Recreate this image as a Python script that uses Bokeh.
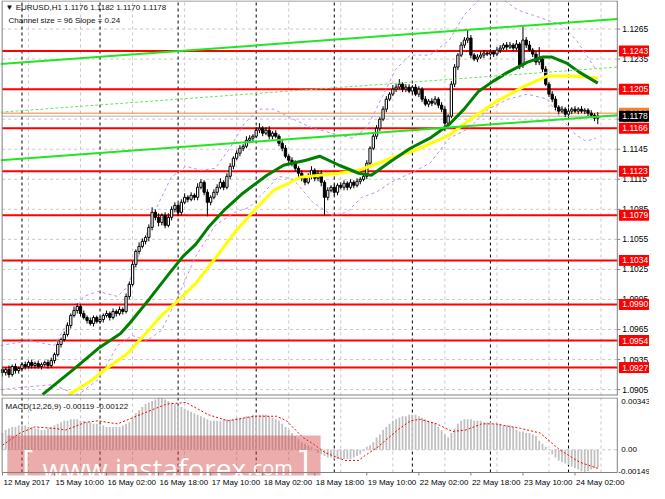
from bokeh.plotting import figure
from bokeh.models import Range1d, ColumnDataSource
from bokeh.layouts import column
from bokeh.embed import file_html
from bokeh.resources import INLINE
from bokeh.core.properties import value

FONT = "Liberation Sans"
PIP = 0.0001

# ---------------- data ----------------
first_open = 1.0925
closes = [
    1.0922, 1.0925, 1.0920, 1.0928, 1.0924, 1.0926, 1.0930, 1.0928, 1.0932, 1.0929,
    1.0931, 1.0928, 1.0930, 1.0932, 1.0929, 1.0934, 1.0940, 1.0950, 1.0955, 1.0960,
    1.0969, 1.0979, 1.0984, 1.0988, 1.0981, 1.0977, 1.0974, 1.0971, 1.0977, 1.0973,
    1.0975, 1.0979, 1.0981, 1.0977, 1.0983, 1.0981, 1.0985, 1.0983, 1.0998, 1.1010,
    1.1030, 1.1043, 1.1048, 1.1053, 1.1057, 1.1067, 1.1082, 1.1077, 1.1072, 1.1079,
    1.1069, 1.1077, 1.1085, 1.1089, 1.1082, 1.1092, 1.1097, 1.1095, 1.1099, 1.1097,
    1.1107, 1.1112, 1.1102, 1.1092, 1.1097, 1.1102, 1.1107, 1.1112, 1.1107, 1.1118,
    1.1128, 1.1136, 1.1141, 1.1146, 1.1148, 1.1154, 1.1156, 1.1158, 1.1164, 1.1166,
    1.1161, 1.1164, 1.1158, 1.1161, 1.1158, 1.1151, 1.1146, 1.1138, 1.1134, 1.1131,
    1.1126, 1.1121, 1.1116, 1.1112, 1.1118, 1.1124, 1.1116, 1.1121, 1.1112, 1.1097,
    1.1104, 1.1107, 1.1102, 1.1109, 1.1107, 1.1111, 1.1107, 1.1112, 1.1109, 1.1113,
    1.1115, 1.1118, 1.1131, 1.1146, 1.1158, 1.1166, 1.1175, 1.1185, 1.1195, 1.1200,
    1.1205, 1.1207, 1.1210, 1.1205, 1.1207, 1.1203, 1.1207, 1.1200, 1.1205, 1.1195,
    1.1190, 1.1193, 1.1191, 1.1195, 1.1189, 1.1185, 1.1171, 1.1178, 1.1210, 1.1227,
    1.1239, 1.1249, 1.1254, 1.1256, 1.1239, 1.1235, 1.1237, 1.1239, 1.1241, 1.1240,
    1.1242, 1.1240, 1.1244, 1.1246, 1.1249, 1.1247, 1.1249, 1.1246, 1.1250, 1.1229,
    1.1254, 1.1249, 1.1244, 1.1240, 1.1232, 1.1235, 1.1225, 1.1210, 1.1200, 1.1195,
    1.1187, 1.1183, 1.1185, 1.1180, 1.1183, 1.1185, 1.1183, 1.1185, 1.1183, 1.1184,
    1.1181, 1.1179, 1.1176, 1.1178,
]
# wick lengths above / below the body, in pips
upper_wick = [
    3, 2, 4, 2, 3, 2, 2, 3, 2, 3,  2, 3, 2, 2, 3, 3, 2, 3, 2, 3,
    3, 2, 4, 3, 2, 3, 2, 3, 2, 2,  3, 2, 3, 2, 3, 2, 3, 2, 3, 3,
    3, 2, 4, 3, 2, 3, 5, 3, 4, 2,  3, 4, 3, 3, 2, 3, 4, 2, 3, 2,
    4, 3, 2, 3, 2, 3, 3, 4, 2, 3,  3, 2, 3, 3, 2, 4, 3, 2, 3, 5,
    2, 3, 4, 2, 3, 2, 3, 3, 2, 3,  3, 2, 3, 2, 3, 4, 2, 3, 3, 2,
    3, 2, 3, 2, 3, 3, 2, 3, 2, 3,  2, 3, 3, 2, 3, 3, 2, 3, 3, 2,
    4, 3, 5, 2, 3, 3, 2, 3, 3, 2,  3, 2, 3, 3, 2, 3, 3, 2, 3, 3,
    2, 3, 3, 8, 3, 2, 3, 4, 3, 2,  3, 2, 3, 3, 2, 3, 3, 2, 4, 2,
    13, 3, 4, 2, 3, 12, 3, 3, 2, 3, 3, 2, 3, 2, 3, 2, 3, 2, 3, 2,
    2, 3, 2, 4,
]
lower_wick = [
    4, 3, 3, 2, 3, 3, 2, 3, 2, 3,  3, 2, 3, 2, 3, 2, 3, 2, 3, 2,
    2, 3, 2, 3, 3, 2, 3, 2, 3, 2,  2, 3, 2, 3, 2, 3, 2, 3, 2, 3,
    2, 3, 3, 2, 3, 4, 3, 3, 4, 3,  3, 2, 3, 3, 4, 3, 2, 3, 2, 3,
    3, 2, 3, 14, 3, 2, 3, 2, 3, 2, 3, 3, 2, 3, 3, 2, 3, 3, 2, 3,
    3, 2, 3, 3, 2, 3, 3, 2, 3, 3,  3, 4, 3, 3, 2, 3, 3, 3, 4, 18,
    3, 2, 3, 3, 2, 3, 3, 2, 3, 2,  3, 2, 3, 3, 2, 3, 3, 2, 3, 2,
    2, 3, 2, 3, 3, 2, 3, 2, 3, 3,  2, 3, 3, 2, 3, 3, 8, 3, 2, 3,
    3, 2, 3, 3, 3, 2, 3, 2, 3, 2,  2, 3, 2, 3, 2, 3, 2, 3, 2, 4,
    3, 3, 2, 3, 3, 3, 3, 2, 3, 3,  3, 3, 2, 3, 2, 3, 2, 3, 2, 3,
    3, 2, 3, 6,
]

# moving averages (bar index, price)
green_ma_x = [12.3, 22.5, 29.4, 36.3, 39.3, 45.3, 51.3, 55.5, 59.4, 63.3, 68.4, 73.5,
              81.3, 86.4, 93.3, 97.5, 103.5, 109.5, 113.4, 119.4, 125.4, 131.4, 137.4,
              141.9, 146.4, 150.9, 155.4, 161.4, 165.9, 168.9, 173.4, 177.3, 183.0]
green_ma_y = [1.0900, 1.0927, 1.0946, 1.0961, 1.0972, 1.0996, 1.1021, 1.1038, 1.1050,
              1.1067, 1.1085, 1.1100, 1.1119, 1.1129, 1.1134, 1.1138, 1.1129, 1.1121,
              1.1119, 1.1133, 1.1146, 1.1156, 1.1170, 1.1185, 1.1203, 1.1213, 1.1222,
              1.1232, 1.1237, 1.1237, 1.1231, 1.1222, 1.1211]
yellow_ma_x = [20.4, 26.4, 32.4, 38.4, 43.5, 48.9, 53.4, 59.4, 65.4, 71.4, 77.4, 83.4,
               91.5, 103.5, 109.5, 115.5, 119.4, 128.4, 137.4, 143.4, 151.5, 160.5,
               167.4, 174.9, 183.0]
yellow_ma_y = [1.0900, 1.0912, 1.0927, 1.0941, 1.0959, 1.0979, 1.0992, 1.1011, 1.1036,
               1.1062, 1.1084, 1.1104, 1.1117, 1.1121, 1.1124, 1.1131, 1.1136, 1.1146,
               1.1159, 1.1174, 1.1192, 1.1208, 1.1218, 1.1218, 1.1216]
band_up_x = [-0.6, 8.4, 15.9, 20.4, 24.9, 29.4, 35.4, 38.4, 42.9, 47.4, 51.9, 56.4,
             60.9, 65.4, 69.9, 74.4, 78.9, 83.4, 89.4, 95.4, 101.4, 107.4, 111.9,
             116.4, 120.9, 125.4, 131.4, 137.4, 141.9, 146.4, 152.4, 158.4, 162.9,
             167.4, 171.9, 176.4, 182.4]
band_up_y = [1.0949, 1.0954, 1.0949, 1.0974, 1.0998, 1.1003, 1.0998, 1.1008, 1.1048,
             1.1087, 1.1117, 1.1128, 1.1124, 1.1126, 1.1146, 1.1171, 1.1185, 1.1185,
             1.1175, 1.1166, 1.1161, 1.1156, 1.1166, 1.1195, 1.1225, 1.1239, 1.1239,
             1.1254, 1.1279, 1.1294, 1.1298, 1.1284, 1.1279, 1.1274, 1.1269, 1.1254,
             1.1225]
band_dn_x = [-0.6, 8.4, 15.9, 18.9, 23.4, 29.4, 35.4, 39.9, 44.4, 48.9, 53.4, 59.4,
             65.4, 71.4, 75.9, 80.4, 84.9, 89.4, 95.4, 101.4, 105.9, 110.4, 114.9,
             119.4, 125.4, 131.4, 137.4, 143.4, 149.4, 155.4, 161.4, 167.4, 171.9,
             176.4, 179.4, 182.4]
band_dn_y = [1.0905, 1.0908, 1.0910, 1.0905, 1.0900, 1.0915, 1.0949, 1.0959, 1.0954,
             1.0964, 1.0994, 1.1038, 1.1069, 1.1082, 1.1087, 1.1102, 1.1118, 1.1115,
             1.1092, 1.1079, 1.1082, 1.1097, 1.1102, 1.1112, 1.1121, 1.1131, 1.1156,
             1.1166, 1.1185, 1.1195, 1.1200, 1.1195, 1.1175, 1.1159, 1.1153, 1.1156]

# regression channel (ends) - size 96 pips, slope 0.24
chan_x = [-0.6, 189.0]
chan_upper = [1.1230, 1.1275]
chan_mid = [1.1182, 1.1227]
chan_lower = [1.1134, 1.1179]

red_levels = [1.1243, 1.1205, 1.1166, 1.1123, 1.1079, 1.1034, 1.0990, 1.0954, 1.0927]
ask_level = 1.1181
bid_level = 1.1178
price_ticks = [1.0905, 1.0935, 1.0965, 1.0995, 1.1025, 1.1055, 1.1085, 1.1115,
               1.1145, 1.1175, 1.1205, 1.1235, 1.1265]

label_bars = [0, 16, 32, 48, 64, 80, 96, 112, 128, 144, 160, 176]
time_labels = ["12 May 2017", "15 May 10:00", "16 May 02:00", "16 May 18:00",
               "17 May 10:00", "18 May 02:00", "18 May 18:00", "19 May 10:00",
               "22 May 02:00", "22 May 18:00", "23 May 10:00", "24 May 02:00"]
grid_bars = [8, 24, 40, 56, 72, 88, 104, 120, 136, 152, 168, 184]
day_bars = [6, 30, 54, 78, 102, 126, 150, 174]

macd_hist = [
    0.0011, 0.0013, 0.0014, 0.0015, 0.0015, 0.0016, 0.0016, 0.0016, 0.0015, 0.0015,
    0.0014, 0.0014, 0.0013, 0.0013, 0.0014, 0.0015, 0.0016, 0.0017, 0.0018, 0.0019,
    0.0019, 0.0020, 0.0020, 0.0020, 0.0019, 0.0019, 0.0018, 0.0018, 0.0017, 0.0017,
    0.0016, 0.0016, 0.0015, 0.0015, 0.0015, 0.0015, 0.0015, 0.0016, 0.0017, 0.0018,
    0.0021, 0.0024, 0.0026, 0.0028, 0.0030, 0.0031, 0.0032, 0.0033, 0.00343, 0.0034,
    0.0033, 0.0032, 0.0031, 0.0030, 0.0029, 0.0028, 0.0027, 0.0026, 0.0025, 0.0024,
    0.0023, 0.0022, 0.0021, 0.0020, 0.0019, 0.0019, 0.0019, 0.0019, 0.0020, 0.0020,
    0.0020, 0.0020, 0.0021, 0.0021, 0.0021, 0.0022, 0.0022, 0.0023, 0.0023, 0.0023,
    0.0023, 0.0023, 0.0022, 0.0021, 0.0020, 0.0019, 0.0017, 0.0015, 0.0013, 0.0011,
    0.0009, 0.0007, 0.0005, 0.0004, 0.0003, 0.0002, 0.0000, -0.0002, -0.0003, -0.0004,
    -0.0005, -0.0005, -0.0006, -0.0006, -0.0006, -0.0006, -0.0006, -0.0006, -0.0005, -0.0004,
    -0.0003, -0.0001, 0.0002, 0.0003, 0.0005, 0.0008, 0.0010, 0.0013, 0.0015, 0.0017,
    0.0019, 0.0020, 0.0021, 0.0022, 0.0022, 0.0023, 0.0023, 0.0023, 0.0022, 0.0021,
    0.0020, 0.0019, 0.0018, 0.0017, 0.0015, 0.0013, 0.0010, 0.0008, 0.0011, 0.0014,
    0.0017, 0.0019, 0.0020, 0.0020, 0.0020, 0.0019, 0.0019, 0.0019, 0.0018, 0.0018,
    0.0018, 0.0017, 0.0017, 0.0017, 0.0016, 0.0016, 0.0016, 0.0015, 0.0013, 0.0012,
    0.0012, 0.0011, 0.0011, 0.0010, 0.0009, 0.0006, 0.0004, 0.0002, 0.0000, -0.0003,
    -0.0005, -0.0007, -0.0008, -0.0009, -0.0010, -0.0011, -0.0012, -0.0013, -0.0014, -0.00149,
    -0.0014, -0.0013, -0.0012, -0.00119,
]
signal_x = [0, 5.4, 9.9, 15.9, 19.5, 25.5, 29.4, 35.4, 42.3, 50.4, 56.4, 63.3, 69.3,
            77.4, 84.3, 87.3, 92.4, 95.4, 99.3, 105.3, 109.5, 111.3, 115.5, 121.5,
            125.4, 128.4, 133.5, 138.3, 142.5, 147.3, 151.5, 159.3, 165.3, 171.3,
            177.3, 183.0]
signal_y = [0.0003, 0.0011, 0.0015, 0.0014, 0.0013, 0.0018, 0.0019, 0.0017, 0.0023,
            0.0030, 0.0031, 0.0023, 0.0019, 0.0022, 0.0022, 0.0019, 0.0008, 0.0004,
            -0.0002, -0.0007, -0.0007, -0.0004, 0.0002, 0.0013, 0.0019, 0.0020, 0.0017,
            0.0012, 0.0013, 0.0017, 0.0017, 0.0014, 0.0011, 0.0000, -0.0008, -0.00122]
macd_top, macd_bottom = 0.00343, -0.00149

# ---------------- derived candle geometry ----------------
n = len(closes)
bars = list(range(n))
opens = [first_open] + closes[:-1]
highs = [max(o, c) + u * PIP for o, c, u in zip(opens, closes, upper_wick)]
lows = [min(o, c) - d * PIP for o, c, d in zip(opens, closes, lower_wick)]
src = ColumnDataSource(dict(
    x=bars, h=highs, l=lows,
    top=[max(o, c) for o, c in zip(opens, closes)],
    bottom=[min(o, c) for o, c in zip(opens, closes)],
    fill=["white" if c >= o else "black" for o, c in zip(opens, closes)],
))

# ---------------- geometry of the panels ----------------
XR0, XR1 = -0.6, 198.9      # bars visible across the whole canvas (incl. price column)
XL, XB = -0.1, 189.0        # left / right border of the chart area
Y0, Y1 = 1.08991, 1.12935   # price span of the main panel
W = 649
MAIN_H = 395
GAP = 2
MACD_PANEL_H = 75
LABEL_H = 16
px_price = (Y1 - Y0) / MAIN_H
px_macd = (macd_top - macd_bottom) / MACD_PANEL_H
MB = macd_bottom - LABEL_H * px_macd

GRID = "#C8C8C8"
FRAME = "#808080"
xr = Range1d(XR0, XR1)


def txt(fig, xs, ys, texts, color="black", size="8.5px", align="left",
        baseline="middle", xo=0, yo=0, font=FONT):
    fig.text(x=xs, y=ys, text=texts, text_font=value(font), text_font_size=value(size),
             text_color=color, text_align=align, text_baseline=baseline,
             x_offset=xo, y_offset=yo)


# ---------------- main price panel ----------------
p = figure(x_range=xr, y_range=Range1d(Y0 - GAP * px_price, Y1), width=W,
           height=MAIN_H + GAP, min_border=0,
           x_axis_location=None, y_axis_location=None, output_backend="svg",
           toolbar_location=None)
p.outline_line_color = None
p.grid.visible = False

k = len(price_ticks)
p.segment(x0=[XL] * k, y0=price_ticks, x1=[XB] * k, y1=price_ticks,
          line_color=GRID, line_dash="3 3", line_width=1)
p.segment(x0=grid_bars, y0=[Y0] * len(grid_bars), x1=grid_bars, y1=[Y1] * len(grid_bars),
          line_color=GRID, line_dash="3 3", line_width=1)
p.segment(x0=day_bars, y0=[Y0] * len(day_bars), x1=day_bars, y1=[Y1] * len(day_bars),
          line_color="black", line_dash="3 3", line_width=1)

r = len(red_levels)
p.segment(x0=[XL] * r, y0=red_levels, x1=[XB] * r, y1=red_levels,
          line_color="#FF0000", line_width=2)
p.segment(x0=[XL, XL], y0=[ask_level, bid_level], x1=[XB, XB], y1=[ask_level, bid_level],
          line_color=["#FF7F27", "#B0B0B0"], line_width=1)

p.line(band_up_x, band_up_y, line_color="#C38EE6", line_width=1, line_dash="3 3")
p.line(band_dn_x, band_dn_y, line_color="#C38EE6", line_width=1, line_dash="3 3")

p.segment(x0="x", y0="h", x1="x", y1="l", source=src, line_color="black", line_width=1)
p.vbar(x="x", width=0.7, top="top", bottom="bottom", source=src,
       fill_color="fill", line_color="black", line_width=1)

p.line(yellow_ma_x, yellow_ma_y, line_color="#FFFF00", line_width=3)
p.line(green_ma_x, green_ma_y, line_color="#008000", line_width=3)

p.line(chan_x, chan_upper, line_color="#22E622", line_width=2)
p.line(chan_x, chan_lower, line_color="#22E622", line_width=2)
p.line(chan_x, chan_mid, line_color="#66E666", line_width=1, line_dash="3 2")

# mask anything below the panel (gap to the MACD window)
p.quad(left=[XR0], right=[XR1], bottom=[Y0 - GAP * px_price], top=[Y0],
       fill_color="white", line_color=None)

# frame border
p.segment(x0=[XL, XB, XL, XL], y0=[Y0, Y0, Y1 - px_price * 0.5, Y0 + px_price * 0.5],
          x1=[XL, XB, XB, XB], y1=[Y1, Y1, Y1 - px_price * 0.5, Y0 + px_price * 0.5],
          line_color=FRAME, line_width=1)

# price scale column
p.segment(x0=[XB] * k, y0=price_ticks, x1=[XB + 0.9] * k, y1=price_ticks,
          line_color=FRAME, line_width=1)
txt(p, [XB] * k, price_ticks, [f"{t:.4f}" for t in price_ticks], xo=5)

bh = 5.5 * px_price
for lvl, col in [(ask_level, "#FF7F27"), (bid_level, "#000000")]:
    p.quad(left=[XB + 0.5], right=[XR1], bottom=[lvl - bh], top=[lvl + bh],
           fill_color=col, line_color=None)
    txt(p, [XB], [lvl], [f"{lvl:.4f}"], color="white", xo=5)
p.quad(left=[XB + 0.5] * r, right=[XR1] * r, bottom=[v - bh for v in red_levels],
       top=[v + bh for v in red_levels], fill_color="#FF0000", line_color=None)
txt(p, [XB] * r, red_levels, [f"{v:.4f}" for v in red_levels], color="white", xo=5)

txt(p, [XR0], [Y1], ["\u25BC EURUSD,H1  1.1176 1.1182 1.1170 1.1178"],
    color="#101010", size="8px", baseline="top", xo=5, yo=2)
txt(p, [XR0], [Y1], ["Channel size = 96 Slope = 0.24"],
    color="#101010", size="8px", baseline="top", xo=8, yo=15)

# ---------------- MACD panel ----------------
m = figure(x_range=xr, y_range=Range1d(MB, macd_top), width=W,
           height=MACD_PANEL_H + LABEL_H, min_border=0,
           x_axis_location=None, y_axis_location=None, output_backend="svg",
           toolbar_location=None)
m.outline_line_color = None
m.grid.visible = False

m.segment(x0=[XL], y0=[0.0], x1=[XB], y1=[0.0], line_color=GRID, line_dash="3 3")
g = len(grid_bars)
m.segment(x0=grid_bars, y0=[macd_bottom] * g, x1=grid_bars, y1=[macd_top] * g,
          line_color=GRID, line_dash="3 3", line_width=1)
dd = len(day_bars)
m.segment(x0=day_bars, y0=[macd_bottom] * dd, x1=day_bars, y1=[macd_top] * dd,
          line_color="black", line_dash="3 3", line_width=1)

m.vbar(x=list(range(len(macd_hist))), width=0.55, top=macd_hist, bottom=0,
       fill_color="#C0C0C0", line_color=None)
m.line(signal_x, signal_y, line_color="#FF0000", line_width=1, line_dash="2 2")

# watermark
m.quad(left=[1.5], right=[97.8], top=[0.00094], bottom=[-0.00168],
       fill_color="#D84848", fill_alpha=0.45, line_color=None)
txt(m, [6.0], [-0.00078], ["["], color="white", size="34px", font="Open Sans")
txt(m, [12.3], [-0.00117], ["www.instaforex"], color="white", size="28px",
    baseline="alphabetic", font="Open Sans")
txt(m, [75.3], [-0.00117], [".com"], color="white", size="20px",
    baseline="alphabetic", font="Open Sans")
txt(m, [91.0], [-0.00078], ["]"], color="white", size="34px", font="Open Sans")

# frame border
m.segment(x0=[XL, XB, XL, XL],
          y0=[macd_bottom, macd_bottom, macd_top - px_macd * 0.5, macd_bottom],
          x1=[XL, XB, XB, XB],
          y1=[macd_top, macd_top, macd_top - px_macd * 0.5, macd_bottom],
          line_color=FRAME, line_width=1)

txt(m, [XB], [macd_top], ["0.00343"], size="8px", baseline="top", xo=4, yo=1)
txt(m, [XB], [0.0], ["0.00"], size="8px", xo=4)
txt(m, [XB], [macd_bottom], ["-0.00149"], size="8px", baseline="bottom", xo=1, yo=1)
txt(m, [XR0], [macd_top], ["MACD(12,26,9) -0.00119 -0.00122"], color="#101010",
    size="8px", baseline="top", xo=5, yo=4)

# time scale
nl = len(label_bars)
m.segment(x0=label_bars, y0=[macd_bottom] * nl, x1=label_bars,
          y1=[macd_bottom - 3 * px_macd] * nl, line_color=FRAME, line_width=1)
txt(m, label_bars, [macd_bottom] * nl, time_labels, size="8px", baseline="top", xo=1, yo=5)

layout = column(p, m, spacing=0)
open("out.html", "w").write(file_html(layout, INLINE))
